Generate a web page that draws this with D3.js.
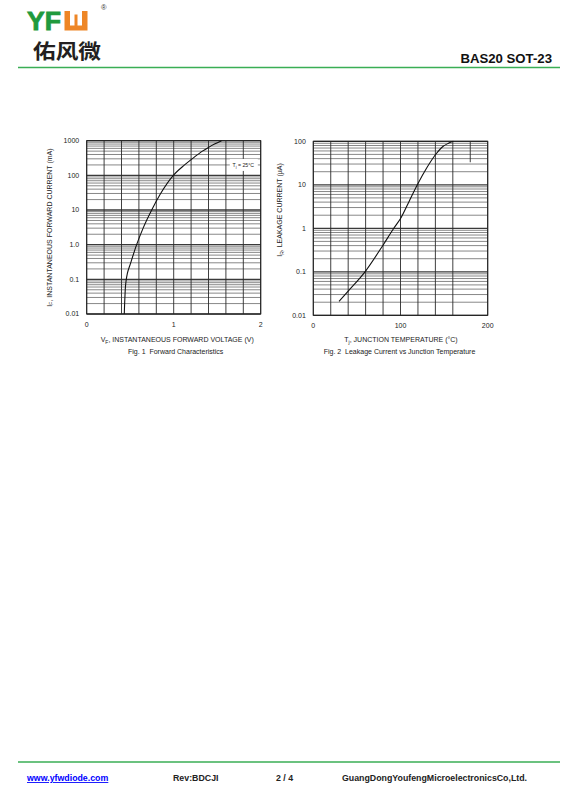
<!DOCTYPE html>
<html><head><meta charset="utf-8">
<script src="https://cdn.jsdelivr.net/npm/d3@7"></script>
<style>body{margin:0;background:#fff} svg{display:block}</style>
</head><body><svg id="c" width="567" height="805"></svg>
<script>
// ---- Data ----
const fig1Voltage = [0.432, 0.436, 0.443, 0.455, 0.468, 0.500, 0.574, 0.651, 0.747, 0.843, 0.996, 1.125, 1.226, 1.33, 1.395, 1.469, 1.55];
const fig1Current = [0.01, 0.02, 0.05, 0.1, 0.15, 0.27, 1, 3.1, 10, 28, 100, 200, 320, 500, 630, 800, 1000];
const fig1XTicks = [0, 1, 2];
const fig1YTicks = [0.01, 0.1, 1, 10, 100, 1000];
const fig1YTickLabels = ["0.01", "0.1", "1.0", "10", "100", "1000"];

const fig2Temp = [29.5, 40, 59.3, 80.3, 92.3, 100.6, 110, 119.3, 130, 140.7, 149, 155, 160.6];
const fig2Current = [0.021, 0.036, 0.1, 0.42, 1, 1.75, 4.2, 10, 24.3, 51, 77, 90, 100];
const fig2XTicks = [0, 100, 200];
const fig2YTicks = [0.01, 0.1, 1, 10, 100];
const fig2YTickLabels = ["0.01", "0.1", "1", "10", "100"];
const fig2PartialGridTemp = [180];
const fig2PartialGridRange = [33, 100];

const svg = d3.select("#c");
const FONT = "'Liberation Sans', Arial, sans-serif";
const GREEN = "#3aae55";

// ---- Header ----
svg.append("text").attr("x", 27).attr("y", 30).attr("font-family", FONT).attr("font-weight", "bold")
  .attr("font-size", 25).attr("fill", "#1f9a3d").attr("stroke", "#1f9a3d").attr("stroke-width", 0.8)
  .attr("textLength", 34).attr("lengthAdjust", "spacingAndGlyphs").text("YF");
// orange "U" mark
const ux = 64.5, uy = 11, uw = 23, uh = 19.5;
svg.append("path").attr("fill", "#ee8626").attr("fill-rule", "evenodd")
  .attr("d", `M${ux},${uy}h${uw}v${uh}h${-uw}z M${ux+5.5},${uy}h${uw-11}v${uh-5}h${-(uw-11)}z`);
svg.append("rect").attr("x", ux + uw/2 - 1.5).attr("y", uy + 3.5).attr("width", 3).attr("height", uh - 8).attr("fill", "#ee8626");
svg.append("text").attr("x", 101).attr("y", 10).attr("font-family", FONT).attr("font-size", 7.5).attr("fill", "#333").text("®");
svg.append("text").attr("x", 33).attr("y", 58.5).attr("font-family", "'Noto Sans CJK SC', sans-serif").attr("font-weight", "bold")
  .attr("font-size", 20).attr("fill", "#231f20").attr("textLength", 68).attr("lengthAdjust", "spacingAndGlyphs").text("佑风微");
svg.append("text").attr("x", 552).attr("y", 63).attr("text-anchor", "end").attr("font-family", FONT).attr("font-weight", "bold")
  .attr("font-size", 13.2).attr("fill", "#111").text("BAS20 SOT-23");
svg.append("line").attr("x1", 18).attr("x2", 560).attr("y1", 67.5).attr("y2", 67.5).attr("stroke", GREEN).attr("stroke-width", 1.5);

// ---- Footer ----
svg.append("line").attr("x1", 18).attr("x2", 560).attr("y1", 762).attr("y2", 762).attr("stroke", GREEN).attr("stroke-width", 1.5);
const foot = [
  {x: 27, t: "www.yfwdiode.com", c: "#0000ff", u: true},
  {x: 173, t: "Rev:BDCJI", c: "#222"},
  {x: 276, t: "2 / 4", c: "#222"},
  {x: 342, t: "GuangDongYoufengMicroelectronicsCo,Ltd.", c: "#222"}
];
foot.forEach(f => {
  svg.append("text").attr("x", f.x).attr("y", 781).attr("font-family", FONT).attr("font-weight", "bold")
    .attr("font-size", 8.8).attr("fill", f.c).attr("text-decoration", f.u ? "underline" : null).text(f.t);
});

// ---- Chart builder ----
function chart(o) {
  const x = d3.scaleLinear().domain(o.xDomain).range([o.left, o.right]);
  const y = d3.scaleLog().domain(o.yDomain).range([o.bottom, o.top]);
  const g = svg.append("g");
  const isMajor = d => Math.abs(Math.log10(d) - Math.round(Math.log10(d))) < 1e-6;
  // horizontal grid (log)
  const hvals = y.ticks();
  g.selectAll(".h").data(hvals).join("line")
    .attr("x1", o.left).attr("x2", o.right)
    .attr("y1", d => y(d)).attr("y2", d => y(d))
    .attr("stroke", d => isMajor(d) ? "#3a3a3a" : "#7a7a7a")
    .attr("stroke-width", d => isMajor(d) ? 1.3 : 0.9);
  // vertical grid
  g.selectAll(".v").data(o.xGrid).join("line")
    .attr("x1", d => x(d)).attr("x2", d => x(d))
    .attr("y1", o.top).attr("y2", o.bottom)
    .attr("stroke", "#2a2a2a").attr("stroke-width", 0.9);
  if (o.partial) {
    g.selectAll(".p").data(o.partial.vals).join("line")
      .attr("x1", d => x(d)).attr("x2", d => x(d))
      .attr("y1", y(o.partial.range[1])).attr("y2", y(o.partial.range[0]))
      .attr("stroke", "#2a2a2a").attr("stroke-width", 0.9);
  }
  // frame
  g.append("rect").attr("x", o.left).attr("y", o.top).attr("width", o.right - o.left).attr("height", o.bottom - o.top)
    .attr("fill", "none").attr("stroke", "#222").attr("stroke-width", 1);
  // label box
  if (o.note) {
    const nx = x(o.note.x), ny = y(o.note.y);
    g.append("rect").attr("x", nx - 13.5).attr("y", ny - 6).attr("width", 28).attr("height", 12).attr("fill", "#fff");
    const t = g.append("text").attr("x", nx).attr("y", ny + 1.8).attr("text-anchor", "middle")
      .attr("font-family", FONT).attr("font-size", 5.2).attr("fill", "#222");
    t.append("tspan").text("T");
    t.append("tspan").attr("font-size", 3.8).attr("dy", 1).text("j");
    t.append("tspan").attr("dy", -1).text(" = 25°C");
  }
  // curve
  const pts = o.xs.map((v, i) => [v, o.ys[i]]);
  g.append("path").datum(pts)
    .attr("d", d3.line().x(d => x(d[0])).y(d => y(d[1])).curve(d3.curveMonotoneX))
    .attr("fill", "none").attr("stroke", "#111").attr("stroke-width", 1.1);
  // tick labels
  g.selectAll(".yl").data(o.yTicks).join("text")
    .attr("x", o.left - 7.5).attr("y", d => y(d) + 2.4).attr("text-anchor", "end")
    .attr("font-family", FONT).attr("font-size", 7).attr("fill", "#222")
    .text((d, i) => o.yLabels[i]);
  g.selectAll(".xl").data(o.xTicks).join("text")
    .attr("x", d => x(d)).attr("y", o.bottom + 12.8).attr("text-anchor", "middle")
    .attr("font-family", FONT).attr("font-size", 7).attr("fill", "#222")
    .text(d => d);
  // x title
  const xt = g.append("text").attr("x", (o.left + o.right) / 2 + o.xTitleShift).attr("y", 342)
    .attr("text-anchor", "middle").attr("font-family", FONT).attr("font-size", 7).attr("fill", "#222");
  xt.append("tspan").text(o.xTitle[0]);
  xt.append("tspan").attr("font-size", 5).attr("dy", 1.5).text(o.xTitle[1]);
  xt.append("tspan").attr("dy", -1.5).text(o.xTitle[2]);
  // caption
  g.append("text").attr("x", (o.left + o.right) / 2 + o.capShift).attr("y", 353.8)
    .attr("text-anchor", "middle").attr("font-family", FONT).attr("font-size", 7).attr("fill", "#222")
    .attr("xml:space", "preserve").text(o.caption);
  // y title
  const yt = g.append("text").attr("transform", `translate(${o.yTitleX},${o.yTitleY}) rotate(-90)`)
    .attr("text-anchor", "middle").attr("font-family", FONT).attr("font-size", 7).attr("fill", "#222");
  yt.append("tspan").text(o.yTitle[0]);
  yt.append("tspan").attr("font-size", 5).attr("dy", 1.5).text(o.yTitle[1]);
  yt.append("tspan").attr("dy", -1.5).text(o.yTitle[2]);
}

chart({
  xDomain: [0, 2], yDomain: [0.01, 1000],
  left: 86.7, right: 260.7, top: 140.7, bottom: 314,
  xGrid: d3.range(0, 11).map(i => i * 0.2),
  xs: fig1Voltage, ys: fig1Current,
  xTicks: fig1XTicks, yTicks: fig1YTicks, yLabels: fig1YTickLabels,
  xTitle: ["V", "F", ", INSTANTANEOUS FORWARD VOLTAGE (V)"], xTitleShift: 3.5,
  caption: "Fig. 1  Forward Characteristics", capShift: 2,
  yTitle: ["I", "F", ", INSTANTANEOUS FORWARD CURRENT (mA)"], yTitleX: 51.5, yTitleY: 227.5,
  note: {x: 1.8, y: 200}
});

chart({
  xDomain: [0, 200], yDomain: [0.01, 100],
  left: 313.3, right: 487.7, top: 141.3, bottom: 315.3,
  xGrid: d3.range(0, 11).map(i => i * 20).filter(v => !fig2PartialGridTemp.includes(v)),
  partial: {vals: fig2PartialGridTemp, range: fig2PartialGridRange},
  xs: fig2Temp, ys: fig2Current,
  xTicks: fig2XTicks, yTicks: fig2YTicks, yLabels: fig2YTickLabels,
  xTitle: ["T", "j", ", JUNCTION TEMPERATURE (°C)"], xTitleShift: 0.5,
  caption: "Fig. 2  Leakage Current vs Junction Temperature", capShift: -1,
  yTitle: ["I", "R", ", LEAKAGE CURRENT (µA)"], yTitleX: 282, yTitleY: 210
});
</script></body></html>
